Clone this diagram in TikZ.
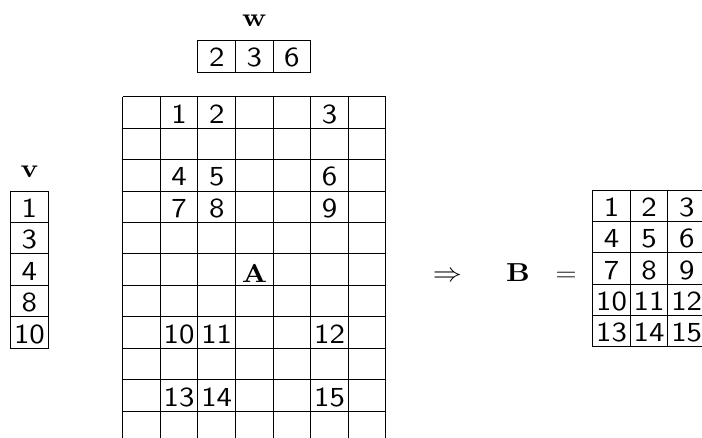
\RequirePackage{fix-cm}
\documentclass[tikz,border=0pt]{standalone}
\usepackage{graphicx}
\usepackage{fontspec}
\setsansfont{lmsans10-regular.otf}
\setmainfont{lmroman10-regular.otf}[BoldFont=lmroman10-bold.otf]
\newcommand{\wide}[1]{\scalebox{1.12}[1]{#1}}
\newcommand{\widenum}[1]{\scalebox{1.12}[1]{#1}}
\begin{document}
\begin{tikzpicture}[x=1pt,y=-1pt,line width=0.9pt,
  num/.style={anchor=base,inner sep=0pt,font=\fontsize{27.5}{33}\selectfont\sffamily},
  lbl/.style={anchor=base,inner sep=0pt,font=\fontsize{26}{31}\selectfont\bfseries},
  sym/.style={anchor=base,inner sep=0pt,font=\fontsize{26}{31}\selectfont}]
\useasboundingbox (0,0) rectangle (702,437);
% cut-off caption parenthesis
\node[sym,anchor=base east] (paren) at (2.5,30) {)};
% vector w
\node[lbl] (wlab) at (254.3,26.5) {\wide{w}};
\draw (197.9,40.7) rectangle (310.7,72.3);
\draw (235.5,40.7) -- (235.5,72.3) (273.1,40.7) -- (273.1,72.3);
\node[num] (w1) at (216.7,66.5) {\widenum{2}};
\node[num] (w2) at (254.3,66.5) {\widenum{3}};
\node[num] (w3) at (291.9,66.5) {\widenum{6}};
% vector v
\node[lbl] (vlab) at (29.5,177) {\wide{v}};
\draw (10.5,191) rectangle (48.3,348.1);
\foreach \k in {1,...,4} \draw (10.5,191+31.43*\k) -- (48.3,191+31.43*\k);
\foreach \k/\t in {1/1,2/3,3/4,4/8,5/10}
  \node[num] (v\k) at (29.4,191+31.43*\k-5) {\widenum{\t}};
% matrix A (cropped at the bottom)
\foreach \i in {0,...,7} \draw (122.7+37.6*\i,96.7) -- (122.7+37.6*\i,445);
\foreach \j in {0,...,10} \draw (122.7,96.7+31.43*\j) -- (385.9,96.7+31.43*\j);
\foreach \r/\a/\b/\c in {1/1/2/3,3/4/5/6,4/7/8/9,8/10/11/12,10/13/14/15}{
  \node[num] (a\a) at (122.7+37.6*1.5,96.7+31.43*\r-5) {\widenum{\a}};
  \node[num] (a\b) at (122.7+37.6*2.5,96.7+31.43*\r-5) {\widenum{\b}};
  \node[num] (a\c) at (122.7+37.6*5.5,96.7+31.43*\r-5) {\widenum{\c}};
}
\node[lbl] (Alab) at (254.5,282) {\wide{A}};
% implication and B
\node[sym] (impl) at (447.5,281) {\wide{$\Rightarrow$}};
\node[lbl] (Blab) at (518,281) {\wide{B}};
\node[sym] (eq) at (566,281) {\wide{$=$}};
\foreach \i in {0,...,3} \draw (592.7+37.6*\i,190.3) -- (592.7+37.6*\i,346.8);
\foreach \j in {0,...,5} \draw (592.7,190.3+31.3*\j) -- (705.5,190.3+31.3*\j);
\foreach \r/\a/\b/\c in {1/1/2/3,2/4/5/6,3/7/8/9,4/10/11/12,5/13/14/15}{
  \node[num] (b\a) at (592.7+37.6*0.5,190.3+31.3*\r-5) {\widenum{\a}};
  \node[num] (b\b) at (592.7+37.6*1.5,190.3+31.3*\r-5) {\widenum{\b}};
  \node[num] (b\c) at (592.7+37.6*2.5,190.3+31.3*\r-5) {\widenum{\c}};
}
\end{tikzpicture}
\end{document}
